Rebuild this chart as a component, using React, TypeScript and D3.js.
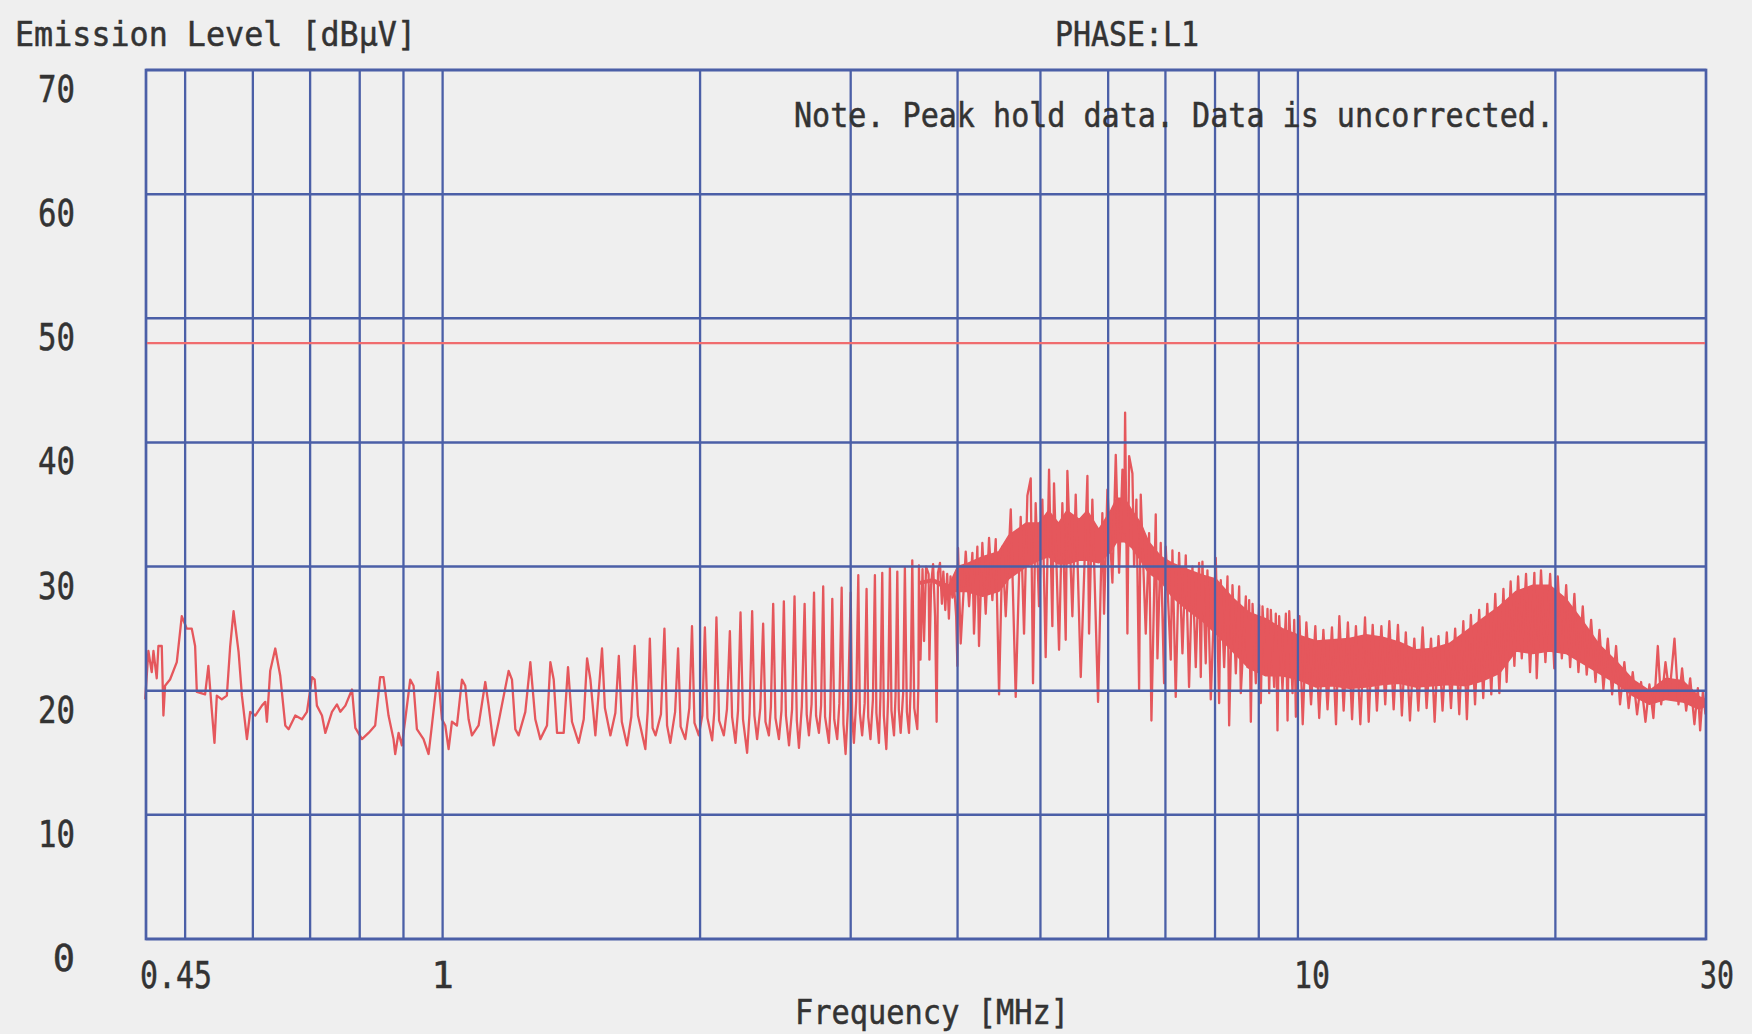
import React from "react";
import * as d3 from "d3";

const W = 1752;
const H = 1034;

const yTickValues = [0, 10, 20, 30, 40, 50, 60, 70];
const xGridFreqs = [0.5, 0.6, 0.7, 0.8, 0.9, 1, 2, 3, 4, 5, 6, 7, 8, 9, 10, 20];
const xLabelValues = [0.45, 1, 10, 30];
const xLabelTexts = ["0.45", "1", "10", "30"];
const limitLevel = 48;

// 0.45 – 1.5 MHz
const traceLow: [number, number][] = [
  [0.449, 19.3], [0.4529, 23.2], [0.457, 21.5], [0.4591, 23.2], [0.4632, 21.0], [0.4653, 23.6], [0.4695, 23.6],
  [0.4716, 18.0], [0.4737, 20.4], [0.4801, 20.9], [0.4889, 22.3], [0.4955, 26.0], [0.5022, 25.0], [0.509, 25.0],
  [0.5136, 23.6], [0.516, 19.9], [0.5276, 19.7], [0.5323, 22.0], [0.5371, 18.5], [0.5411, 15.8], [0.5445, 19.6],
  [0.5519, 19.3], [0.5594, 19.6], [0.5645, 23.6], [0.5696, 26.4], [0.5774, 23.1], [0.5826, 19.6], [0.5905, 16.1],
  [0.5957, 18.3], [0.6039, 18.0], [0.6148, 18.8], [0.6204, 19.1], [0.6231, 17.5], [0.6287, 21.6], [0.6373, 23.4],
  [0.6459, 21.2], [0.6547, 17.2], [0.6606, 16.9], [0.6726, 18.0], [0.6848, 17.7], [0.6941, 18.3], [0.7036, 21.1],
  [0.7086, 20.9], [0.7129, 18.8], [0.7227, 18.0], [0.7293, 16.6], [0.7424, 18.3], [0.7525, 18.9], [0.7593, 18.3],
  [0.7697, 18.8], [0.7836, 20.1], [0.7906, 17.0], [0.8049, 16.1], [0.8193, 16.6], [0.834, 17.2], [0.8453, 21.1],
  [0.8529, 21.1], [0.8645, 18.0], [0.8762, 16.1], [0.8802, 14.9], [0.8882, 16.6], [0.8962, 15.6], [0.9044, 17.7],
  [0.9165, 20.9], [0.9248, 20.4], [0.9331, 16.9], [0.9499, 16.1], [0.9629, 14.9], [0.9716, 17.2], [0.9874, 21.5],
  [0.9982, 17.7], [1.0072, 17.2], [1.0163, 15.3], [1.0254, 17.5], [1.0394, 17.2], [1.0535, 20.9], [1.0629, 20.4],
  [1.0725, 17.7], [1.0822, 16.4], [1.1017, 17.2], [1.1217, 20.7], [1.1319, 18.8], [1.1473, 15.6], [1.1628, 17.5],
  [1.1945, 21.6], [1.2053, 20.9], [1.2162, 16.9], [1.2271, 16.4], [1.2494, 18.3], [1.2664, 22.3], [1.2834, 17.7],
  [1.3009, 16.1], [1.3245, 17.2], [1.3366, 22.3], [1.3486, 20.9], [1.3608, 16.6], [1.3854, 16.6], [1.4016, 21.9],
  [1.4167, 17.5], [1.4424, 15.8], [1.4622, 17.7], [1.4754, 22.6], [1.4887, 20.9], [1.5087, 16.4],
];

// 1.5 – 3.6 MHz harmonic comb
const traceComb: [number, number][] = [
  [1.536, 23.4], [1.548, 18.6], [1.571, 16.4], [1.592, 18.2], [1.607, 22.8], [1.62, 17.5], [1.643, 15.6], [1.662, 17.9],
  [1.677, 23.6], [1.692, 18.0], [1.726, 15.3], [1.737, 18.4], [1.747, 24.2], [1.76, 17.0], [1.774, 16.4], [1.8, 18.1],
  [1.817, 25.0], [1.83, 17.2], [1.846, 15.8], [1.87, 18.3], [1.885, 23.4], [1.898, 17.1], [1.922, 16.1], [1.943, 18.6],
  [1.957, 25.2], [1.97, 17.4], [1.993, 16.4], [2.012, 18.0], [2.026, 25.1], [2.04, 17.8], [2.066, 16.0], [2.078, 18.3],
  [2.09, 25.9], [2.105, 17.6], [2.132, 16.4], [2.15, 18.5], [2.167, 24.8], [2.18, 17.9], [2.2, 15.8], [2.215, 18.4],
  [2.23, 26.3], [2.245, 17.7], [2.27, 15.0], [2.285, 18.2], [2.301, 26.4], [2.315, 18.0], [2.332, 16.1], [2.352, 18.6],
  [2.37, 25.4], [2.385, 17.5], [2.407, 16.4], [2.42, 18.7], [2.435, 27.0], [2.45, 17.8], [2.473, 16.1], [2.49, 18.4],
  [2.506, 27.2], [2.52, 18.0], [2.541, 15.6], [2.562, 18.5], [2.579, 27.6], [2.595, 17.6], [2.61, 15.4], [2.63, 18.7],
  [2.65, 27.0], [2.665, 18.1], [2.681, 16.4], [2.7, 18.9], [2.718, 27.9], [2.733, 18.0], [2.754, 16.6], [2.77, 18.8],
  [2.786, 28.4], [2.8, 17.9], [2.829, 15.8], [2.84, 18.5], [2.855, 27.4], [2.87, 17.7], [2.893, 16.1], [2.91, 19.0],
  [2.928, 28.3], [2.942, 17.3], [2.959, 14.9], [2.978, 18.6], [3.0, 27.9], [3.012, 18.0], [3.026, 15.8], [3.045, 19.2],
  [3.062, 29.3], [3.075, 18.2], [3.094, 16.4], [3.115, 19.0], [3.131, 28.2], [3.145, 17.9], [3.164, 16.1], [3.185, 19.3],
  [3.202, 29.3], [3.215, 18.2], [3.237, 15.8], [3.25, 19.5], [3.266, 29.5], [3.28, 18.0], [3.302, 15.3], [3.318, 19.4],
  [3.334, 29.9], [3.348, 18.4], [3.371, 16.4], [3.385, 19.6], [3.401, 29.6], [3.415, 18.5], [3.432, 16.6], [3.455, 19.8],
  [3.471, 29.9], [3.49, 18.3], [3.51, 16.6], [3.525, 20.0], [3.541, 30.5], [3.56, 18.6], [3.589, 16.9], [3.6, 20.5],
  [3.605, 30.1],
];

// 3.6 – 10 MHz peak region
const tracePeak: [number, number][] = [
  [3.62, 22.5], [3.64, 29.8], [3.655, 24.0], [3.675, 30.0], [3.7, 29.4], [3.708, 22.5], [3.725, 28.5], [3.745, 30.2],
  [3.765, 26.0], [3.781, 17.5], [3.795, 29.5], [3.815, 30.3], [3.835, 27.0], [3.85, 29.6], [3.87, 26.5], [3.89, 29.4],
  [3.908, 25.8], [3.925, 29.2], [3.945, 27.5], [3.96, 28.8], [3.985, 26.0], [3.998, 22.0], [4.005, 31.5], [4.034, 23.8],
  [4.089, 31.2], [4.126, 26.8], [4.163, 31.1], [4.181, 24.6], [4.219, 31.6], [4.238, 23.6], [4.276, 31.9], [4.315, 26.2],
  [4.354, 32.3], [4.393, 27.3], [4.433, 32.2], [4.473, 19.7], [4.513, 31.6], [4.554, 26.0], [4.616, 34.6], [4.678, 19.5],
  [4.741, 34.0], [4.784, 24.6], [4.827, 35.7], [4.871, 37.1], [4.901, 20.6], [4.936, 35.1], [4.981, 26.8], [5.026, 35.4],
  [5.071, 22.7], [5.117, 37.8], [5.163, 25.2], [5.186, 36.7], [5.257, 23.3], [5.304, 35.1], [5.352, 24.1], [5.376, 37.7],
  [5.449, 26.0], [5.498, 35.8], [5.573, 21.1], [5.674, 37.3], [5.699, 24.6], [5.75, 35.4], [5.839, 19.1], [5.907, 34.3],
  [5.934, 26.2], [5.988, 36.2], [6.069, 28.7], [6.124, 39.0], [6.179, 29.5], [6.235, 37.8], [6.263, 32.7], [6.28, 42.4],
  [6.319, 24.6], [6.348, 38.9], [6.405, 37.5], [6.434, 30.0], [6.474, 35.4], [6.521, 20.1], [6.55, 35.8], [6.639, 24.6],
  [6.699, 32.7], [6.741, 17.6], [6.82, 34.2], [6.851, 22.6], [6.912, 31.9], [6.975, 20.6], [7.006, 31.6], [7.101, 22.5],
  [7.133, 31.3], [7.197, 19.5], [7.262, 31.1], [7.328, 23.0], [7.394, 30.9], [7.46, 20.3], [7.528, 30.0], [7.596, 21.9],
  [7.664, 30.3], [7.699, 21.1], [7.733, 30.4], [7.803, 22.2], [7.838, 29.7], [7.909, 19.3], [8.016, 30.7], [8.089, 19.0],
  [8.125, 28.9], [8.199, 21.9], [8.273, 29.2], [8.31, 17.2], [8.385, 28.5], [8.461, 21.4], [8.537, 28.4], [8.575, 19.8],
  [8.692, 27.6], [8.731, 21.9], [8.77, 27.3], [8.81, 17.5], [8.85, 27.0], [8.929, 20.6], [9.01, 26.9], [9.05, 19.0],
  [9.091, 26.8], [9.173, 21.4], [9.214, 26.6], [9.256, 19.8], [9.297, 26.5], [9.38, 20.3], [9.422, 26.2], [9.465, 16.8],
  [9.507, 26.0], [9.593, 20.1], [9.681, 26.2], [9.725, 17.6], [9.769, 26.4], [9.856, 19.8], [9.901, 25.7], [9.945, 17.9],
  [10.035, 25.2],
];

// 10 – 30 MHz band
const traceHigh: [number, number][] = [
  [10.04, 26.0], [10.13, 17.3], [10.23, 25.5], [10.36, 18.9], [10.48, 25.2], [10.59, 17.8], [10.71, 24.9], [10.83, 18.5],
  [10.96, 25.1], [11.08, 17.3], [11.18, 26.0], [11.31, 18.4], [11.44, 25.5], [11.57, 17.7], [11.69, 25.2], [11.83, 17.3],
  [11.98, 25.9], [12.1, 17.5], [12.23, 25.3], [12.37, 18.4], [12.52, 25.2], [12.65, 18.9], [12.79, 25.6], [12.94, 18.5],
  [13.09, 25.3], [13.23, 18.0], [13.37, 24.7], [13.52, 17.6], [13.68, 24.2], [13.83, 18.4], [13.99, 25.1], [14.14, 18.6],
  [14.31, 24.2], [14.45, 17.5], [14.6, 24.4], [14.76, 18.4], [14.93, 24.7], [15.1, 18.6], [15.27, 25.0], [15.44, 18.1],
  [15.61, 25.6], [15.76, 17.7], [15.93, 26.1], [16.11, 18.9], [16.29, 26.5], [16.47, 19.4], [16.65, 27.0], [16.83, 19.7],
  [17.01, 27.8], [17.2, 19.8], [17.39, 28.2], [17.54, 20.7], [17.73, 28.8], [17.91, 22.0], [18.09, 29.2], [18.27, 22.6],
  [18.48, 29.4], [18.68, 21.5], [18.9, 29.5], [19.02, 21.0], [19.24, 29.7], [19.47, 22.3], [19.72, 29.4], [19.94, 21.8],
  [20.13, 29.2], [20.35, 22.6], [20.59, 28.5], [20.81, 21.9], [21.05, 27.8], [21.28, 21.5], [21.53, 26.8], [21.76, 21.3],
  [22.02, 25.7], [22.28, 20.7], [22.52, 24.9], [22.76, 20.1], [23.03, 24.2], [23.3, 19.7], [23.55, 23.6], [23.8, 18.9],
  [24.08, 22.3], [24.36, 18.6], [24.63, 21.5], [24.92, 18.1], [25.19, 20.7], [25.49, 17.5], [25.76, 20.5], [26.04, 17.8],
  [26.35, 23.6], [26.59, 18.9], [26.9, 22.3], [27.19, 19.7], [27.56, 24.2], [27.86, 18.9], [28.13, 21.8], [28.44, 18.4],
  [28.75, 21.0], [29.08, 17.3], [29.35, 20.2], [29.53, 16.8], [29.75, 19.9], [29.96, 18.1],
];

// dense body of the spectrum (solid core) 3.6 – 30 MHz
const bandFreq = [
  3.62, 3.74, 3.91, 4.0, 4.09, 4.28, 4.47, 4.59, 4.81, 4.98, 5.11, 5.25, 5.37, 5.55, 5.67, 5.85, 6.04, 6.14, 6.27,
  6.4, 6.55, 6.69, 6.92, 7.12, 7.4, 7.74, 8.02, 8.38, 8.77, 9.17, 9.59, 10.0, 10.5, 10.98, 11.48, 12.01, 12.56, 13.14,
  13.74, 14.37, 15.03, 15.73, 16.44, 17.2, 17.99, 18.82, 19.68, 20.58, 21.53, 22.51, 23.55, 24.63, 25.76, 26.94, 28.18,
  29.48, 29.97,
];
const bandHigh = [
  28.8, 29.0, 28.5, 30.0, 30.2, 30.8, 31.2, 32.5, 33.5, 33.5, 34.5, 33.5, 34.5, 33.8, 34.5, 33.0, 34.5, 35.5, 35.5,
  34.5, 33.5, 32.0, 30.8, 30.3, 29.8, 29.3, 29.0, 27.5, 26.3, 25.8, 25.0, 24.5, 24.0, 24.1, 24.2, 24.5, 24.3, 23.9,
  23.3, 23.4, 23.8, 24.8, 25.8, 26.8, 28.0, 28.5, 28.5, 27.4, 25.6, 23.7, 22.4, 20.9, 20.0, 21.0, 20.8, 19.5, 19.3,
];
const bandLow = [
  28.6, 28.8, 28.0, 28.0, 28.0, 27.6, 28.0, 29.0, 30.0, 30.5, 30.8, 30.2, 30.2, 30.5, 30.5, 30.3, 31.2, 32.0, 32.0,
  31.5, 30.5, 29.5, 28.8, 27.6, 26.6, 25.6, 24.6, 23.2, 21.8, 21.2, 21.2, 20.9, 20.3, 20.4, 20.2, 20.3, 20.5, 20.6,
  20.3, 20.4, 20.5, 20.4, 20.8, 21.4, 23.2, 23.0, 23.2, 23.0, 22.2, 21.4, 20.6, 19.6, 18.9, 19.3, 19.1, 18.5, 18.8,
];

const PLOT = { left: 146, right: 1706, top: 70, bottom: 939 };
const GRID = "#4b5fa7";
const TRACE = "#e5575c";
const LIMIT = "#f06c6e";
const TEXT = "#333333";
const FONT = "'DejaVu Sans Mono', monospace";

export default function App() {
  const x = d3.scaleLog().domain([0.45, 30]).range([PLOT.left, PLOT.right]);
  const y = d3.scaleLinear().domain([0, 70]).range([PLOT.bottom, PLOT.top]);

  const trace = [...traceLow, ...traceComb, ...tracePeak, ...traceHigh];
  const linePath = d3
    .line<[number, number]>()
    .x((d) => x(d[0]))
    .y((d) => y(d[1]))(trace) as string;

  const bandPath = d3
    .area<number>()
    .x((f) => x(f))
    .y0((_, i) => y(bandLow[i]))
    .y1((_, i) => y(bandHigh[i]))(bandFreq) as string;

  const xLabelBox: Record<string, [number, number]> = {
    "0.45": [140, 72],
    "1": [434, 0],
    "10": [1294, 36],
    "30": [1700, 34],
  };

  const textStyle = { stroke: TEXT, strokeWidth: 0.5 };

  return (
    <svg
      width={W}
      height={H}
      style={{ position: "fixed", left: 0, top: 0, display: "block" }}
      fontFamily={FONT}
    >
      <rect x={0} y={0} width={W} height={H} fill="#efefef" />

      {/* trace */}
      <path d={bandPath} fill={TRACE} stroke={TRACE} strokeWidth={1.5} strokeLinejoin="round" />
      <path d={linePath} fill="none" stroke={TRACE} strokeWidth={2.3} strokeLinejoin="round" />

      {/* grid */}
      {yTickValues.map((v) => (
        <line key={"h" + v} x1={PLOT.left} x2={PLOT.right} y1={y(v)} y2={y(v)} stroke={GRID} strokeWidth={2.5} />
      ))}
      {xGridFreqs.map((f) => (
        <line key={"v" + f} x1={x(f)} x2={x(f)} y1={PLOT.top} y2={PLOT.bottom} stroke={GRID} strokeWidth={2.3} />
      ))}
      <rect
        x={PLOT.left}
        y={PLOT.top}
        width={PLOT.right - PLOT.left}
        height={PLOT.bottom - PLOT.top}
        fill="none"
        stroke={GRID}
        strokeWidth={2.7}
      />

      {/* limit line */}
      <line
        x1={PLOT.left + 1}
        x2={PLOT.right - 1}
        y1={y(limitLevel)}
        y2={y(limitLevel)}
        stroke={LIMIT}
        strokeWidth={2.4}
      />

      {/* y tick labels */}
      {yTickValues.map((v) => {
        const s = String(v);
        return (
          <text
            key={"yl" + v}
            x={75}
            y={y(v) + 32}
            textAnchor="end"
            fontSize={37}
            fill={TEXT}
            style={textStyle}
            {...(s.length > 1 ? { textLength: 37, lengthAdjust: "spacingAndGlyphs" } : {})}
          >
            {s}
          </text>
        );
      })}

      {/* x tick labels */}
      {xLabelValues.map((v, i) => {
        const s = xLabelTexts[i];
        const [bx, bw] = xLabelBox[s];
        return s.length > 1 ? (
          <text
            key={"xl" + v}
            x={bx}
            y={988}
            fontSize={37}
            fill={TEXT}
            style={textStyle}
            textLength={bw}
            lengthAdjust="spacingAndGlyphs"
          >
            {s}
          </text>
        ) : (
          <text key={"xl" + v} x={x(v)} y={988} fontSize={37} fill={TEXT} style={textStyle} textAnchor="middle">
            {s}
          </text>
        );
      })}

      {/* titles */}
      <text x={15} y={46} fontSize={33} fill={TEXT} style={textStyle} textLength={401} lengthAdjust="spacingAndGlyphs">
        Emission Level [dBμV]
      </text>
      <text x={1055} y={46} fontSize={33} fill={TEXT} style={textStyle} textLength={144} lengthAdjust="spacingAndGlyphs">
        PHASE:L1
      </text>
      <text x={794} y={127} fontSize={33} fill={TEXT} style={textStyle} textLength={760} lengthAdjust="spacingAndGlyphs">
        Note. Peak hold data. Data is uncorrected.
      </text>
      <text x={795} y={1024} fontSize={33} fill={TEXT} style={textStyle} textLength={274} lengthAdjust="spacingAndGlyphs">
        Frequency [MHz]
      </text>
    </svg>
  );
}
